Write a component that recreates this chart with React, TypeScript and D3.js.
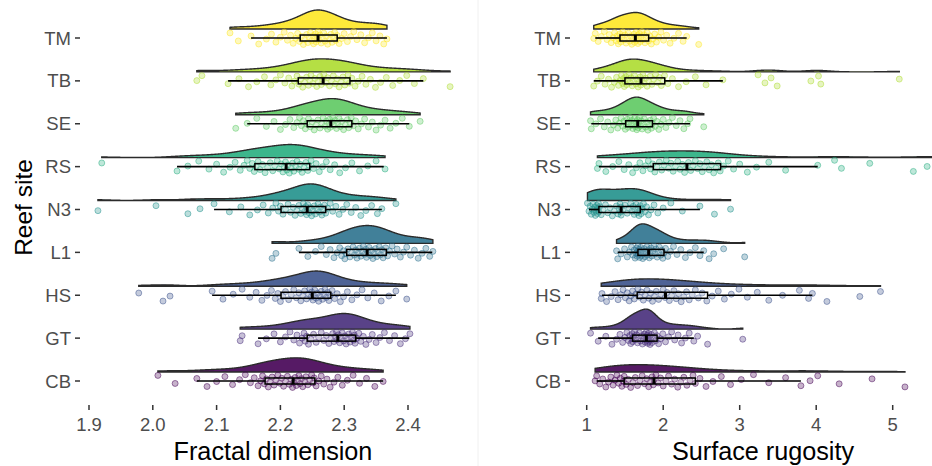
import React from 'react';
import * as d3 from 'd3';

// ---------- categories & ticks ----------
const sites = ['TM', 'TB', 'SE', 'RS', 'N3', 'L1', 'HS', 'GT', 'CB'];
const fdTicks = [1.9, 2.0, 2.1, 2.2, 2.3, 2.4];
const srTicks = [1, 2, 3, 4, 5];

// ---------- Fractal dimension observations per site ----------
const fdTM = [2.121, 2.134, 2.154, 2.166, 2.178, 2.186, 2.193, 2.200, 2.206, 2.211, 2.216, 2.220, 2.224, 2.227, 2.230,
  2.233, 2.236, 2.238, 2.241, 2.243, 2.245, 2.247, 2.249, 2.251, 2.252, 2.254, 2.255, 2.256, 2.258, 2.259,
  2.260, 2.262, 2.264, 2.266, 2.268, 2.270, 2.272, 2.274, 2.277, 2.279, 2.281, 2.283, 2.285, 2.287, 2.289,
  2.292, 2.296, 2.300, 2.305, 2.310, 2.315, 2.320, 2.326, 2.332, 2.338, 2.344, 2.350, 2.356, 2.362, 2.367];
const fdTB = [2.069, 2.077, 2.118, 2.135, 2.150, 2.163, 2.175, 2.185, 2.193, 2.200, 2.207, 2.213, 2.218, 2.222, 2.226,
  2.229, 2.232, 2.235, 2.238, 2.241, 2.244, 2.246, 2.248, 2.251, 2.254, 2.257, 2.259, 2.262, 2.264, 2.266,
  2.268, 2.271, 2.274, 2.277, 2.280, 2.283, 2.286, 2.289, 2.292, 2.295, 2.298, 2.301, 2.304, 2.306, 2.308,
  2.312, 2.317, 2.322, 2.328, 2.334, 2.341, 2.349, 2.357, 2.366, 2.376, 2.387, 2.398, 2.410, 2.424, 2.466];
const fdSE = [2.130, 2.148, 2.163, 2.178, 2.190, 2.200, 2.208, 2.215, 2.221, 2.226, 2.230, 2.233, 2.236, 2.239, 2.241,
  2.244, 2.247, 2.250, 2.253, 2.256, 2.259, 2.262, 2.265, 2.267, 2.270, 2.272, 2.274, 2.276, 2.277, 2.278,
  2.280, 2.282, 2.284, 2.286, 2.288, 2.290, 2.292, 2.294, 2.296, 2.299, 2.302, 2.305, 2.307, 2.309, 2.311,
  2.314, 2.318, 2.322, 2.327, 2.332, 2.338, 2.344, 2.350, 2.357, 2.364, 2.372, 2.381, 2.391, 2.402, 2.419];
const fdRS = [1.920, 2.038, 2.055, 2.072, 2.088, 2.100, 2.111, 2.121, 2.129, 2.137, 2.143, 2.148, 2.152, 2.156, 2.159,
  2.162, 2.165, 2.168, 2.172, 2.176, 2.180, 2.184, 2.188, 2.191, 2.195, 2.198, 2.201, 2.204, 2.206, 2.208,
  2.210, 2.212, 2.214, 2.217, 2.219, 2.221, 2.224, 2.226, 2.229, 2.231, 2.234, 2.237, 2.240, 2.243, 2.245,
  2.248, 2.252, 2.256, 2.261, 2.266, 2.272, 2.278, 2.285, 2.293, 2.302, 2.312, 2.324, 2.337, 2.350, 2.364];
const fdN3 = [1.914, 2.005, 2.055, 2.074, 2.096, 2.120, 2.138, 2.152, 2.164, 2.173, 2.181, 2.188, 2.193, 2.197, 2.200,
  2.204, 2.208, 2.212, 2.216, 2.220, 2.223, 2.226, 2.229, 2.232, 2.234, 2.236, 2.238, 2.240, 2.241, 2.242,
  2.243, 2.245, 2.247, 2.249, 2.251, 2.253, 2.255, 2.257, 2.259, 2.261, 2.263, 2.265, 2.267, 2.269, 2.271,
  2.274, 2.278, 2.282, 2.287, 2.292, 2.298, 2.304, 2.311, 2.318, 2.326, 2.334, 2.343, 2.352, 2.359, 2.381];
const fdL1 = [2.187, 2.193, 2.229, 2.243, 2.255, 2.264, 2.272, 2.278, 2.284, 2.289, 2.293, 2.296, 2.299, 2.301, 2.303,
  2.306, 2.309, 2.312, 2.314, 2.316, 2.318, 2.320, 2.322, 2.324, 2.326, 2.328, 2.330, 2.332, 2.334, 2.335,
  2.337, 2.339, 2.341, 2.343, 2.345, 2.347, 2.349, 2.351, 2.353, 2.355, 2.357, 2.359, 2.361, 2.363, 2.365,
  2.368, 2.371, 2.375, 2.379, 2.383, 2.388, 2.393, 2.398, 2.404, 2.410, 2.416, 2.422, 2.428, 2.434, 2.439];
const fdHS = [1.978, 2.016, 2.027, 2.093, 2.110, 2.126, 2.140, 2.152, 2.162, 2.171, 2.179, 2.186, 2.192, 2.196, 2.200,
  2.204, 2.208, 2.213, 2.217, 2.221, 2.225, 2.229, 2.232, 2.235, 2.238, 2.241, 2.244, 2.246, 2.248, 2.249,
  2.251, 2.252, 2.254, 2.256, 2.258, 2.260, 2.262, 2.264, 2.266, 2.268, 2.270, 2.272, 2.274, 2.276, 2.278,
  2.281, 2.285, 2.289, 2.294, 2.299, 2.305, 2.312, 2.320, 2.328, 2.337, 2.347, 2.358, 2.370, 2.381, 2.398];
const fdGT = [2.137, 2.140, 2.165, 2.178, 2.190, 2.200, 2.208, 2.215, 2.221, 2.226, 2.230, 2.234, 2.237, 2.239, 2.241,
  2.244, 2.248, 2.252, 2.256, 2.260, 2.264, 2.268, 2.272, 2.276, 2.279, 2.282, 2.284, 2.286, 2.288, 2.289,
  2.291, 2.293, 2.295, 2.297, 2.299, 2.301, 2.303, 2.305, 2.307, 2.309, 2.311, 2.313, 2.315, 2.316, 2.317,
  2.320, 2.323, 2.326, 2.330, 2.334, 2.339, 2.344, 2.350, 2.356, 2.363, 2.371, 2.379, 2.388, 2.396, 2.403];
const fdCB = [2.008, 2.035, 2.069, 2.085, 2.100, 2.113, 2.125, 2.136, 2.145, 2.153, 2.159, 2.165, 2.169, 2.172, 2.175,
  2.178, 2.181, 2.184, 2.187, 2.190, 2.193, 2.196, 2.199, 2.202, 2.205, 2.208, 2.211, 2.214, 2.217, 2.219,
  2.221, 2.223, 2.225, 2.227, 2.229, 2.231, 2.233, 2.235, 2.238, 2.240, 2.243, 2.246, 2.249, 2.251, 2.253,
  2.256, 2.260, 2.264, 2.268, 2.273, 2.278, 2.284, 2.290, 2.297, 2.305, 2.314, 2.324, 2.335, 2.348, 2.361];

// ---------- Surface rugosity observations per site ----------
const srTM = [1.092, 1.112, 1.150, 1.190, 1.230, 1.265, 1.295, 1.320, 1.345, 1.365, 1.385, 1.400, 1.413, 1.424, 1.433,
  1.445, 1.458, 1.472, 1.486, 1.500, 1.515, 1.530, 1.545, 1.560, 1.575, 1.590, 1.605, 1.617, 1.627, 1.635,
  1.643, 1.652, 1.661, 1.670, 1.679, 1.689, 1.699, 1.710, 1.722, 1.735, 1.748, 1.762, 1.777, 1.792, 1.808,
  1.825, 1.845, 1.865, 1.888, 1.912, 1.940, 1.970, 2.005, 2.045, 2.090, 2.140, 2.200, 2.260, 2.307, 2.464];
const srTB = [1.092, 1.140, 1.190, 1.240, 1.285, 1.325, 1.360, 1.390, 1.415, 1.437, 1.455, 1.470, 1.482, 1.492, 1.499,
  1.510, 1.523, 1.537, 1.551, 1.565, 1.580, 1.595, 1.610, 1.626, 1.642, 1.658, 1.673, 1.687, 1.698, 1.708,
  1.720, 1.735, 1.752, 1.770, 1.790, 1.810, 1.830, 1.852, 1.875, 1.900, 1.925, 1.950, 1.975, 1.998, 2.018,
  2.060, 2.120, 2.200, 2.300, 2.420, 2.560, 2.780, 3.240, 3.330, 3.410, 3.490, 3.930, 4.030, 4.060, 5.086];
const srSE = [1.050, 1.060, 1.120, 1.180, 1.230, 1.275, 1.315, 1.350, 1.380, 1.405, 1.428, 1.450, 1.470, 1.488, 1.505,
  1.518, 1.530, 1.542, 1.554, 1.566, 1.578, 1.590, 1.602, 1.614, 1.626, 1.637, 1.647, 1.655, 1.661, 1.666,
  1.672, 1.680, 1.690, 1.701, 1.713, 1.726, 1.740, 1.754, 1.769, 1.784, 1.800, 1.816, 1.832, 1.846, 1.858,
  1.875, 1.895, 1.918, 1.943, 1.970, 2.000, 2.035, 2.075, 2.120, 2.170, 2.220, 2.270, 2.320, 2.350, 2.530];
const srRS = [1.140, 1.160, 1.250, 1.340, 1.420, 1.490, 1.550, 1.600, 1.650, 1.695, 1.735, 1.770, 1.805, 1.835, 1.862,
  1.890, 1.920, 1.950, 1.980, 2.010, 2.040, 2.070, 2.100, 2.130, 2.160, 2.190, 2.220, 2.250, 2.280, 2.305,
  2.330, 2.360, 2.390, 2.420, 2.450, 2.480, 2.510, 2.540, 2.570, 2.600, 2.630, 2.660, 2.690, 2.720, 2.745,
  2.790, 2.850, 2.920, 3.000, 3.100, 3.220, 3.380, 3.600, 4.020, 4.240, 4.330, 4.700, 5.270, 5.450, 5.560];
const srN3 = [1.010, 1.030, 1.045, 1.060, 1.072, 1.083, 1.094, 1.104, 1.113, 1.122, 1.131, 1.140, 1.148, 1.154, 1.159,
  1.170, 1.190, 1.215, 1.245, 1.275, 1.305, 1.335, 1.362, 1.388, 1.410, 1.425, 1.436, 1.443, 1.447, 1.450,
  1.470, 1.500, 1.530, 1.555, 1.575, 1.592, 1.607, 1.621, 1.635, 1.648, 1.660, 1.672, 1.683, 1.692, 1.700,
  1.712, 1.726, 1.742, 1.760, 1.782, 1.808, 1.840, 1.880, 1.930, 2.000, 2.100, 2.250, 2.480, 2.670, 2.880];
const srL1 = [1.390, 1.405, 1.450, 1.495, 1.530, 1.560, 1.585, 1.605, 1.620, 1.633, 1.643, 1.651, 1.658, 1.664, 1.669,
  1.676, 1.684, 1.692, 1.700, 1.708, 1.716, 1.724, 1.733, 1.742, 1.752, 1.763, 1.775, 1.788, 1.800, 1.809,
  1.818, 1.828, 1.839, 1.851, 1.864, 1.878, 1.892, 1.906, 1.921, 1.936, 1.951, 1.966, 1.981, 1.995, 2.008,
  2.030, 2.060, 2.095, 2.135, 2.180, 2.230, 2.290, 2.350, 2.420, 2.480, 2.530, 2.600, 2.660, 2.790, 3.065];
const srHS = [1.190, 1.200, 1.260, 1.320, 1.370, 1.410, 1.445, 1.475, 1.505, 1.530, 1.555, 1.578, 1.600, 1.622, 1.645,
  1.668, 1.692, 1.716, 1.740, 1.764, 1.788, 1.812, 1.836, 1.860, 1.885, 1.910, 1.940, 1.970, 2.000, 2.025,
  2.050, 2.080, 2.110, 2.140, 2.170, 2.200, 2.235, 2.270, 2.305, 2.340, 2.380, 2.420, 2.460, 2.510, 2.570,
  2.640, 2.720, 2.800, 2.890, 2.990, 3.100, 3.230, 3.380, 3.560, 3.780, 3.900, 3.950, 4.140, 4.570, 4.840];
const srGT = [1.050, 1.150, 1.250, 1.330, 1.390, 1.435, 1.470, 1.500, 1.525, 1.545, 1.562, 1.576, 1.587, 1.595, 1.600,
  1.612, 1.625, 1.638, 1.651, 1.664, 1.677, 1.690, 1.703, 1.716, 1.729, 1.742, 1.754, 1.765, 1.773, 1.779,
  1.784, 1.790, 1.796, 1.802, 1.808, 1.814, 1.821, 1.828, 1.836, 1.845, 1.855, 1.868, 1.885, 1.902, 1.918,
  1.940, 1.965, 1.995, 2.030, 2.070, 2.110, 2.150, 2.195, 2.240, 2.290, 2.340, 2.400, 2.450, 2.580, 3.040];
const srCB = [1.110, 1.130, 1.170, 1.210, 1.250, 1.285, 1.315, 1.345, 1.370, 1.395, 1.418, 1.440, 1.460, 1.478, 1.490,
  1.515, 1.545, 1.575, 1.605, 1.635, 1.665, 1.695, 1.725, 1.755, 1.785, 1.810, 1.835, 1.855, 1.870, 1.880,
  1.905, 1.935, 1.965, 2.000, 2.035, 2.070, 2.110, 2.150, 2.190, 2.230, 2.270, 2.310, 2.350, 2.390, 2.420,
  2.480, 2.560, 2.650, 2.760, 2.880, 3.020, 3.180, 3.380, 3.600, 3.800, 3.920, 4.020, 4.300, 4.730, 5.160];

// ---------- boxplot statistics (site order as `sites`) ----------
const fdLow = [2.154, 2.118, 2.148, 2.038, 2.096, 2.229, 2.093, 2.165, 2.069];
const fdQ1 = [2.231, 2.228, 2.242, 2.160, 2.201, 2.304, 2.201, 2.242, 2.176];
const fdMed = [2.259, 2.267, 2.279, 2.209, 2.242, 2.336, 2.250, 2.290, 2.220];
const fdQ3 = [2.289, 2.309, 2.312, 2.246, 2.271, 2.366, 2.279, 2.318, 2.254];
const fdHigh = [2.367, 2.424, 2.402, 2.362, 2.359, 2.438, 2.381, 2.402, 2.361];

const srLow = [1.112, 1.092, 1.060, 1.160, 1.030, 1.405, 1.200, 1.150, 1.130];
const srQ1 = [1.435, 1.500, 1.510, 1.870, 1.160, 1.670, 1.660, 1.600, 1.490];
const srMed = [1.636, 1.710, 1.667, 2.310, 1.450, 1.810, 2.030, 1.780, 1.880];
const srQ3 = [1.810, 2.020, 1.860, 2.750, 1.700, 2.010, 2.580, 1.920, 2.420];
const srHigh = [2.307, 2.780, 2.350, 4.020, 2.480, 2.530, 3.950, 2.400, 3.800];

const fdData = [fdTM, fdTB, fdSE, fdRS, fdN3, fdL1, fdHS, fdGT, fdCB];
const srData = [srTM, srTB, srSE, srRS, srN3, srL1, srHS, srGT, srCB];

// ---------- helpers ----------
const W = 932;
const H = 466;
const FONT = '"Liberation Sans", Arial, Helvetica, sans-serif';

function siteColor(i: number) {
  return d3.interpolateViridis((sites.length - 1 - i) / (sites.length - 1));
}

function kde(values: number[]) {
  const s = values.slice().sort(d3.ascending);
  const n = s.length;
  const sd = d3.deviation(s) as number;
  const iqr = (d3.quantile(s, 0.75) as number) - (d3.quantile(s, 0.25) as number);
  const lo = Math.min(sd, iqr / 1.34);
  const bw = 0.9 * lo * Math.pow(n, -0.2);
  const mn = s[0];
  const mx = s[n - 1];
  const grid = d3.range(512).map((i) => mn + ((mx - mn) * i) / 511);
  const c = 1 / (n * bw * Math.sqrt(2 * Math.PI));
  return grid.map((g) => {
    let sum = 0;
    for (const v of s) {
      const z = (g - v) / bw;
      sum += Math.exp(-0.5 * z * z);
    }
    return [g, sum * c] as [number, number];
  });
}

type PanelProps = {
  data: number[][];
  low: number[];
  q1: number[];
  med: number[];
  q3: number[];
  high: number[];
  x: d3.ScaleLinear<number, number>;
  ticks: number[];
  tickFmt: (v: number) => string;
  labelX: number;
  title: string;
  titleX: number;
  maxH: number;
  seed: number;
};

const y = d3.scalePoint<string>().domain(sites).range([38, 381]);

function Panel(p: PanelProps) {
  const dens = p.data.map(kde);
  const gmax = d3.max(dens, (d) => d3.max(d, (e) => e[1]) as number) as number;
  const hScale = d3.scaleLinear().domain([0, gmax]).range([0, p.maxH]);
  const violinOffset = -9;
  const jitterH = 6.5;
  const boxH = 6;
  const tickY0 = 405;
  return (
    <g>
      {sites.map((s, i) => {
        const cy = y(s) as number;
        const base = cy + violinOffset;
        const col = siteColor(i);
        const area = d3
          .area<[number, number]>()
          .x((d) => p.x(d[0]))
          .y0(base)
          .y1((d) => base - hScale(d[1]))
          .curve(d3.curveLinear);
        const pts = p.data[i];
        return (
          <g key={s}>
            <path d={area(dens[i]) || ''} fill={col} fillOpacity={0.9} stroke="#2b2b2b" strokeWidth={1.4} />
            {pts.map((v, j) => {
              const f = (j * 0.6180339887 + i * 0.37 + p.seed) % 1;
              return (
                <circle
                  key={j}
                  cx={p.x(v)}
                  cy={cy + (f * 2 - 1) * jitterH}
                  r={3}
                  fill={col}
                  fillOpacity={0.3}
                  stroke={col}
                  strokeOpacity={0.55}
                  strokeWidth={0.9}
                />
              );
            })}
            <line x1={p.x(p.low[i])} x2={p.x(p.q1[i])} y1={cy} y2={cy} stroke="#000" strokeWidth={1.7} />
            <line x1={p.x(p.q3[i])} x2={p.x(p.high[i])} y1={cy} y2={cy} stroke="#000" strokeWidth={1.7} />
            <rect
              x={p.x(p.q1[i])}
              y={cy - boxH / 2}
              width={p.x(p.q3[i]) - p.x(p.q1[i])}
              height={boxH}
              fill="#fff"
              fillOpacity={0.2}
              stroke="#000"
              strokeWidth={1.5}
            />
            <line x1={p.x(p.med[i])} x2={p.x(p.med[i])} y1={cy - boxH / 2} y2={cy + boxH / 2} stroke="#000" strokeWidth={3} />
            <line x1={p.labelX + 4} x2={p.labelX + 9} y1={cy} y2={cy} stroke="#333" strokeWidth={1.5} />
            <text x={p.labelX} y={cy + 6.6} textAnchor="end" fontSize={18.5} fill="#4d4d4d" fontFamily={FONT}>
              {s}
            </text>
          </g>
        );
      })}
      {p.ticks.map((t) => (
        <g key={t}>
          <line x1={p.x(t)} x2={p.x(t)} y1={tickY0} y2={tickY0 + 5} stroke="#333" strokeWidth={1.5} />
          <text x={p.x(t)} y={431} textAnchor="middle" fontSize={18.5} fill="#4d4d4d" fontFamily={FONT}>
            {p.tickFmt(t)}
          </text>
        </g>
      ))}
      <text x={p.titleX} y={460} textAnchor="middle" fontSize={25.2} fill="#000" fontFamily={FONT}>
        {p.title}
      </text>
    </g>
  );
}

export default function App() {
  const xFD = d3.scaleLinear().domain([1.9, 2.4]).range([89, 408]);
  const xSR = d3.scaleLinear().domain([1, 5]).range([586.7, 892.7]);
  return (
    <svg width={W} height={H} style={{ position: 'absolute', left: 0, top: 0, background: '#fff' }}>
      <rect x={0} y={0} width={W} height={H} fill="#fff" />
      <line x1={478} x2={478} y1={0} y2={H} stroke="#f0f0f0" strokeWidth={1} />
      <Panel
        data={fdData}
        low={fdLow}
        q1={fdQ1}
        med={fdMed}
        q3={fdQ3}
        high={fdHigh}
        x={xFD}
        ticks={fdTicks}
        tickFmt={d3.format('.1f')}
        labelX={71}
        title="Fractal dimension"
        titleX={273}
        maxH={19}
        seed={0.11}
      />
      <Panel
        data={srData}
        low={srLow}
        q1={srQ1}
        med={srMed}
        q3={srQ3}
        high={srHigh}
        x={xSR}
        ticks={srTicks}
        tickFmt={d3.format('d')}
        labelX={561}
        title="Surface rugosity"
        titleX={763}
        maxH={20}
        seed={0.53}
      />
      <text
        transform="translate(32,207.5) rotate(-90)"
        textAnchor="middle"
        fontSize={24.5}
        fill="#000"
        fontFamily={FONT}
      >
        Reef site
      </text>
    </svg>
  );
}
